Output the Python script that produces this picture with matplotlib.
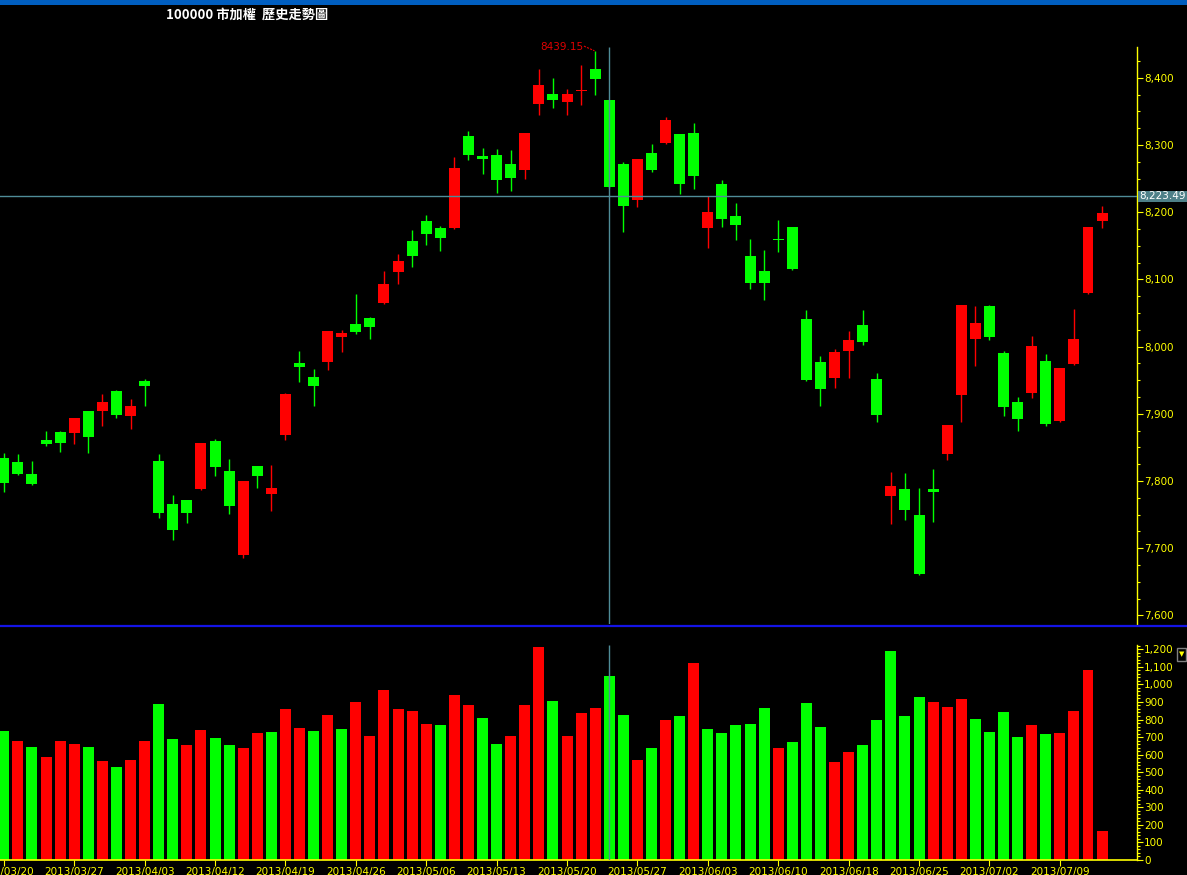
import matplotlib
matplotlib.use("Agg")
import matplotlib.pyplot as plt
from matplotlib.lines import Line2D
from matplotlib.patches import Rectangle
from matplotlib.ticker import FuncFormatter

# ---------------- data ----------------
opens = [7834, 7828, 7810, 7861, 7873, 7871, 7904, 7904, 7934, 7897,
         7949, 7830, 7766, 7772, 7788, 7860, 7815, 7690, 7822, 7781,
         7869, 7976, 7955, 7977, 8014, 8034, 8043, 8065, 8111, 8157,
         8187, 8177, 8177, 8313, 8284, 8285, 8272, 8263, 8361, 8376,
         8364, 8381, 8413, 8367, 8272, 8218, 8288, 8303, 8316, 8318,
         8177, 8242, 8194, 8135, 8113, 8160, 8178, 8041, 7977, 7953,
         7994, 8032, 7952, 7778, 7788, 7750, 7788, 7840, 7928, 8011,
         8060, 7990, 7918, 7931, 7979, 7889, 7974, 8080, 8187]
highs = [7842, 7840, 7830, 7874, 7874, 7894, 7904, 7930, 7936, 7922,
         7952, 7840, 7779, 7772, 7857, 7863, 7833, 7800, 7822, 7824,
         7931, 7994, 7967, 8023, 8025, 8078, 8044, 8113, 8138, 8174,
         8196, 8180, 8282, 8321, 8296, 8294, 8293, 8318, 8413, 8400,
         8383, 8419, 8439.15, 8367, 8275, 8279, 8302, 8342, 8316, 8333,
         8224, 8248, 8214, 8160, 8144, 8188, 8178, 8055, 7986, 7997,
         8023, 8055, 7961, 7814, 7812, 7790, 7818, 7883, 8062, 8060,
         8062, 7994, 7925, 8016, 7989, 7968, 8056, 8178, 8209]
lows = [7784, 7809, 7794, 7852, 7843, 7855, 7842, 7882, 7894, 7878,
        7912, 7745, 7712, 7738, 7787, 7808, 7751, 7686, 7790, 7756,
        7861, 7947, 7912, 7965, 7992, 8019, 8011, 8063, 8093, 8118,
        8151, 8142, 8175, 8278, 8257, 8229, 8232, 8249, 8345, 8355,
        8345, 8359, 8374, 8236, 8171, 8208, 8260, 8302, 8227, 8235,
        8147, 8178, 8159, 8086, 8069, 8141, 8114, 7949, 7912, 7938,
        7953, 8002, 7888, 7736, 7742, 7660, 7739, 7831, 7888, 7971,
        8010, 7897, 7875, 7924, 7882, 7888, 7973, 8079, 8177]
closes = [7797, 7810, 7796, 7855, 7857, 7894, 7866, 7918, 7898, 7912,
          7942, 7753, 7727, 7753, 7857, 7821, 7763, 7800, 7808, 7790,
          7930, 7970, 7942, 8023, 8020, 8022, 8029, 8093, 8127, 8135,
          8168, 8162, 8266, 8285, 8279, 8248, 8251, 8318, 8389, 8367,
          8376, 8382, 8398, 8238, 8209, 8279, 8263, 8337, 8242, 8254,
          8200, 8190, 8181, 8095, 8095, 8160, 8116, 7950, 7937, 7992,
          8010, 8007, 7898, 7793, 7757, 7662, 7784, 7883, 8062, 8035,
          8014, 7910, 7892, 8001, 7885, 7968, 8011, 8178, 8199]
prev_close = 7810
volumes = [735, 678, 643, 587, 678, 661, 643, 564, 530, 569,
           678, 888, 689, 655, 740, 695, 655, 638, 723, 729,
           860, 752, 735, 826, 746, 900, 706, 968, 860, 849,
           774, 769, 940, 883, 809, 661, 706, 883, 1213, 905,
           706, 837, 866, 1048, 826, 569, 638, 797, 820, 1122,
           746, 723, 769, 774, 866, 638, 672, 894, 757, 558,
           615, 655, 797, 1190, 820, 928, 900, 871, 917, 803,
           729, 843, 700, 769, 718, 723, 849, 1082, 165]
tick_labels = ["2013/03/20", "2013/03/27", "2013/04/03", "2013/04/12",
               "2013/04/19", "2013/04/26", "2013/05/06", "2013/05/13",
               "2013/05/20", "2013/05/27", "2013/06/03", "2013/06/10",
               "2013/06/18", "2013/06/25", "2013/07/02", "2013/07/09"]
price_ticks = [7600, 7700, 7800, 7900, 8000, 8100, 8200, 8300, 8400]
volume_ticks = [0, 100, 200, 300, 400, 500, 600, 700, 800, 900, 1000, 1100, 1200]
title = "100000 市加權  歷史走勢圖"
cursor_index = 43
cursor_price = 8223.49
high_label = "8439.15"
high_index = 42

# ---------------- style ----------------
RED = "#ff0000"
GREEN = "#00ff00"
YEL = "#ffff00"
CUR = "#4f8c98"
W, H = 1187, 875


def fr(x0, y0, x1, y1):
    return [x0 / W, 1 - y1 / H, (x1 - x0) / W, (y1 - y0) / H]


fig = plt.figure(figsize=(W / 100, H / 100), dpi=100, facecolor="black")

# top blue bar and title
fig.patches.append(Rectangle((0, 1 - 5 / H), 1, 5 / H, transform=fig.transFigure,
                             facecolor="#005ec0", edgecolor="none"))
fig.text(166 / W, 1 - 15 / H, title, color="white", fontsize=9.5, fontweight="bold",
         family=["Noto Sans CJK TC", "DejaVu Sans"], va="center", ha="left")

axp = fig.add_axes(fr(0, 5, 1137, 624))
axv = fig.add_axes(fr(0, 628, 1137, 860))
n = len(closes)
xs = list(range(n))
bw = 0.78

for ax in (axp, axv):
    ax.set_facecolor("black")
    ax.set_xlim(-0.27, 80.48)
    for s in ("left", "top"):
        ax.spines[s].set_visible(False)
    ax.spines["right"].set_color(YEL)
    ax.spines["right"].set_linewidth(1.0)
    ax.yaxis.tick_right()
    ax.tick_params(axis="y", which="both", colors=YEL, labelsize=7.5, direction="out")
    ax.tick_params(axis="y", which="major", length=4, width=0.8, pad=1)
    ax.tick_params(axis="y", which="minor", length=2.5, width=0.8)

# ---------- price panel ----------
PLO, PHI, PAX = 7587.3, 8508.3, 8445.8
axp.set_ylim(PLO, PHI)
axp.spines["bottom"].set_visible(False)
axp.spines["right"].set_bounds(PLO, PAX)
axp.set_xticks([])
axp.set_yticks(price_ticks)
axp.set_yticks([price_ticks[0] + 25 * k for k in range(34) if price_ticks[0] + 25 * k <= PAX],
               minor=True)
axp.yaxis.set_major_formatter(FuncFormatter(lambda v, p: f"{v:,.0f}"))

for i in xs:
    o, h, l, c = opens[i], highs[i], lows[i], closes[i]
    col = RED if c > o else GREEN
    axp.vlines(i, l, h, color=col, linewidth=1.0, zorder=2)
    lo = min(o, c)
    ht = max(abs(c - o), 1.6)
    if abs(c - o) < 1.5:
        lo = (o + c) / 2 - 0.8
    axp.bar(i, ht, bottom=lo, width=bw, color=col, linewidth=0, zorder=3)

# cursor lines
axp.axhline(cursor_price, color=CUR, linewidth=1.0, zorder=4)
axp.vlines(cursor_index, PLO, PAX, color=CUR, linewidth=1.0, zorder=4)
axp.text(1.002, cursor_price, f"{cursor_price:,.2f}", transform=axp.get_yaxis_transform(),
         color="white", fontsize=7.5, va="center", ha="left", zorder=6,
         bbox=dict(boxstyle="square,pad=0.08", facecolor="#4e8088", edgecolor="none"),
         clip_on=False)

# high annotation
axp.text(high_index - 0.85, highs[high_index] + 6.5, high_label, color="#e00000",
         fontsize=7.5, ha="right", va="center")
axp.plot([high_index - 0.8, high_index - 0.05], [highs[high_index] + 8, highs[high_index] + 1],
         color="#e00000", linewidth=0.8, linestyle=(0, (2, 1)))

# ---------- volume panel ----------
axv.set_ylim(0, 1321)
axv.spines["bottom"].set_color(YEL)
axv.spines["bottom"].set_linewidth(1.2)
axv.spines["right"].set_bounds(0, 1224)
axv.set_yticks(volume_ticks)
axv.set_yticks(list(range(0, 1221, 20)), minor=True)
axv.yaxis.set_major_formatter(FuncFormatter(lambda v, p: f"{v:,.0f}"))

prevs = [prev_close] + closes[:-1]
vcols = [RED if c > pc else GREEN for c, pc in zip(closes, prevs)]
axv.bar(xs, volumes, width=bw, color=vcols, linewidth=0, zorder=2)
axv.vlines(cursor_index, 0, 1224, color=CUR, linewidth=1.0, zorder=4)

axv.set_xticks(list(range(0, n, 5))[:len(tick_labels)])
axv.set_xticklabels(tick_labels)
axv.tick_params(axis="x", colors=YEL, labelsize=7.5, length=4, width=0.8, pad=1,
                direction="out")

# separator line
fig.add_artist(Line2D([0, 1], [1 - 626 / H, 1 - 626 / H], transform=fig.transFigure,
                      color="#1414e6", linewidth=1.6))

# small icon on the right of the volume panel
fig.patches.append(Rectangle((1177 / W, 1 - 661 / H), 9 / W, 13 / H, transform=fig.transFigure,
                             facecolor="black", edgecolor="#808080", linewidth=1.0))
fig.text(1181.5 / W, 1 - 654 / H, "▼", color=YEL, fontsize=5, ha="center", va="center")

fig.savefig("out.png", dpi=100, facecolor="black")
